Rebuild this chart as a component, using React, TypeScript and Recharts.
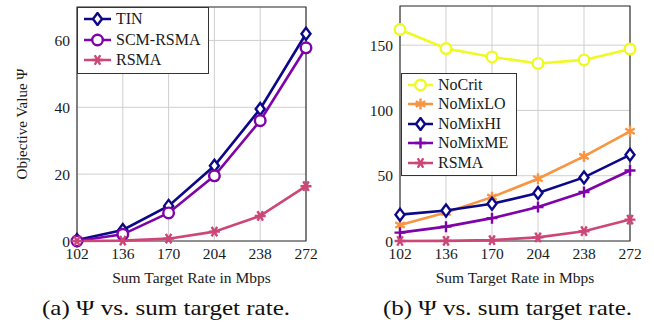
import { LineChart, Line, XAxis, YAxis, CartesianGrid, Legend, ReferenceArea } from "recharts";

// values (Ψ vs. sum target rate)
const rates = [102, 136, 170, 204, 238, 272];
const tinVals = [0.3, 3.3, 10.5, 22.5, 39.5, 62];
const scmRsmaVals = [0, 2, 8.4, 19.5, 36, 57.8];
const rsmaVals = [0, 0.1, 0.7, 2.8, 7.5, 16.4];
const noCritVals = [162, 147.4, 141, 136, 138.7, 147];
const noMixLoVals = [12.3, 21.8, 33.6, 47.7, 64.8, 84];
const noMixHiVals = [20.2, 23.3, 28.5, 36.7, 48.7, 66];
const noMixMeVals = [6.4, 11, 17.5, 26, 37.5, 54];
const leftTicks = [0, 20, 40, 60];
const rightTicks = [0, 50, 100, 150];

const FONT = "Liberation Serif, Times New Roman, Times, serif";
const INK = "#1a1a1a";

type Shape = "diamond" | "circle" | "xstar" | "star" | "plus";
type Series = { key: string; name: string; color: string; shape: Shape; values: number[] };

const leftSeries: Series[] = [
  { key: "tin", name: "TIN", color: "#0d0887", shape: "diamond", values: tinVals },
  { key: "scm", name: "SCM-RSMA", color: "#7e03a8", shape: "circle", values: scmRsmaVals },
  { key: "rsma", name: "RSMA", color: "#cc4778", shape: "xstar", values: rsmaVals },
];

const rightSeries: Series[] = [
  { key: "nocrit", name: "NoCrit", color: "#f0f921", shape: "circle", values: noCritVals },
  { key: "nomixlo", name: "NoMixLO", color: "#f89540", shape: "star", values: noMixLoVals },
  { key: "nomixhi", name: "NoMixHI", color: "#0d0887", shape: "diamond", values: noMixHiVals },
  { key: "nomixme", name: "NoMixME", color: "#7e03a8", shape: "plus", values: noMixMeVals },
  { key: "rsma", name: "RSMA", color: "#cc4778", shape: "xstar", values: rsmaVals },
];

function buildRows(series: Series[]) {
  return rates.map((r, i) => {
    const row: Record<string, number> = { rate: r };
    series.forEach((s) => (row[s.key] = s.values[i]));
    return row;
  });
}

function Marker({ shape, color, cx, cy }: { shape: Shape; color: string; cx: number; cy: number }) {
  const sw = 2.4;
  if (shape === "circle") return <circle cx={cx} cy={cy} r={5.3} fill="#fff" stroke={color} strokeWidth={2.4} />;
  if (shape === "diamond")
    return (
      <polygon
        points={`${cx},${cy - 6} ${cx + 4.5},${cy} ${cx},${cy + 6} ${cx - 4.5},${cy}`}
        fill="#fff"
        stroke={color}
        strokeWidth={sw}
      />
    );
  if (shape === "plus")
    return (
      <path d={`M${cx - 5.5},${cy}H${cx + 5.5}M${cx},${cy - 5.5}V${cy + 5.5}`} stroke={color} strokeWidth={sw} />
    );
  // asterisks: three strokes
  const angles = shape === "xstar" ? [0, 60, 120] : [90, 30, 150];
  const r = 5.5;
  const d = angles
    .map((a) => {
      const dx = Math.cos((a * Math.PI) / 180) * r;
      const dy = Math.sin((a * Math.PI) / 180) * r;
      return `M${cx - dx},${cy - dy}L${cx + dx},${cy + dy}`;
    })
    .join("");
  return <path d={d} stroke={color} strokeWidth={sw} />;
}

const dotFor = (s: Series) => (p: any) =>
  <Marker key={`${s.key}-${p.index}`} shape={s.shape} color={s.color} cx={p.cx} cy={p.cy} />;

function LegendBox({ series, rowH, lineW, textSize }: { series: Series[]; rowH: number; lineW: number; textSize: number }) {
  return (
    <div style={{ border: "1px solid #333", background: "#fff", padding: "1px 8px 2px 6px", fontFamily: FONT, color: INK }}>
      {series.map((s) => (
        <div key={s.key} style={{ display: "flex", alignItems: "center", height: rowH, fontSize: textSize }}>
          <svg width={lineW} height={14} style={{ marginRight: 5 }}>
            <line x1={0} y1={7} x2={lineW} y2={7} stroke={s.color} strokeWidth={2.5} />
            <Marker shape={s.shape} color={s.color} cx={lineW / 2} cy={7} />
          </svg>
          <span>{s.name}</span>
        </div>
      ))}
    </div>
  );
}

function Panel({
  series,
  yMax,
  yTicks,
  axisW,
  rightM,
  topM,
  yLabel,
  legendPos,
  legendRowH,
  lineW,
}: {
  series: Series[];
  yMax: number;
  yTicks: number[];
  axisW: number;
  rightM: number;
  topM: number;
  yLabel?: string;
  legendPos: { left: number; top: number };
  legendRowH: number;
  lineW: number;
}) {
  const rows = buildRows(series);
  const tick = { fontSize: 15.5, fill: INK, fontFamily: FONT };
  return (
    <LineChart
      width={327}
      height={290}
      data={rows}
      margin={{ top: topM, right: rightM, left: 0, bottom: 0 }}
      style={{ fontFamily: FONT }}
    >
      <CartesianGrid stroke="#cfcfcf" strokeWidth={1} />
      <XAxis
        dataKey="rate"
        type="number"
        domain={[102, 272]}
        ticks={rates}
        height={49}
        tick={tick}
        tickLine={false}
        axisLine={false}
        tickSize={5}
        label={({ viewBox }: any) => (
          <text
            x={viewBox.x + viewBox.width / 2}
            y={viewBox.y + 36}
            textAnchor="middle"
            dominantBaseline="central"
            fontSize={15.5}
            fill={INK}
            fontFamily={FONT}
          >
            Sum Target Rate in Mbps
          </text>
        )}
      />
      <YAxis
        type="number"
        domain={[0, yMax]}
        ticks={yTicks}
        width={axisW}
        tick={tick}
        tickLine={false}
        axisLine={false}
        tickSize={5}
        label={
          yLabel
            ? ({ viewBox }: any) => {
                const cy = viewBox.y + viewBox.height / 2;
                return (
                  <text
                    x={22}
                    y={cy}
                    transform={`rotate(-90, 22, ${cy})`}
                    textAnchor="middle"
                    dominantBaseline="central"
                    fontSize={15}
                    fill={INK}
                    fontFamily={FONT}
                  >
                    {yLabel}
                  </text>
                )
              }
            : undefined
        }
      />
      <ReferenceArea x1={102} x2={272} y1={0} y2={yMax} fill="none" stroke="#3a3a3a" strokeWidth={1.2} />
      {series.map((s) => (
        <Line
          key={s.key}
          dataKey={s.key}
          name={s.name}
          type="linear"
          stroke={s.color}
          strokeWidth={2.6}
          dot={dotFor(s)}
          activeDot={false}
          isAnimationActive={false}
        />
      ))}
      <Legend
        layout="vertical"
        align="center"
        verticalAlign="middle"
        wrapperStyle={{ left: legendPos.left, top: legendPos.top, width: "auto" }}
        content={() => <LegendBox series={series} rowH={legendRowH} lineW={lineW} textSize={16} />}
      />
    </LineChart>
  );
}

const captions = ["(a) \u03A8 vs. sum target rate.", "(b) \u03A8 vs. sum target rate."];
const yTitle = "Objective Value \u03A8";

export default function App() {
  return (
    <div style={{ position: "fixed", left: 0, top: 0, width: 654, height: 327, background: "#fff" }}>
      <div style={{ position: "absolute", left: 0, top: 0 }}>
        <Panel
          series={leftSeries}
          yMax={70}
          yTicks={leftTicks}
          axisW={77}
          rightM={21}
          topM={7}
          yLabel={yTitle}
          legendPos={{ left: 77, top: 7 }}
          legendRowH={20.5}
          lineW={27}
        />
      </div>
      <div style={{ position: "absolute", left: 327, top: 0 }}>
        <Panel
          series={rightSeries}
          yMax={180}
          yTicks={rightTicks}
          axisW={73}
          rightM={24}
          topM={6}
          legendPos={{ left: 74, top: 73 }}
          legendRowH={19.5}
          lineW={25}
        />
      </div>
      <svg style={{ position: "absolute", left: 0, top: 290 }} width={654} height={37}>
        <text x={42} y={18} textLength={248} lengthAdjust="spacingAndGlyphs" fontSize={21} fill="#111" fontFamily={FONT} dominantBaseline="central">
          {captions[0]}
        </text>
        <text x={383} y={18} textLength={249} lengthAdjust="spacingAndGlyphs" fontSize={21} fill="#111" fontFamily={FONT} dominantBaseline="central">
          {captions[1]}
        </text>
      </svg>
    </div>
  );
}
